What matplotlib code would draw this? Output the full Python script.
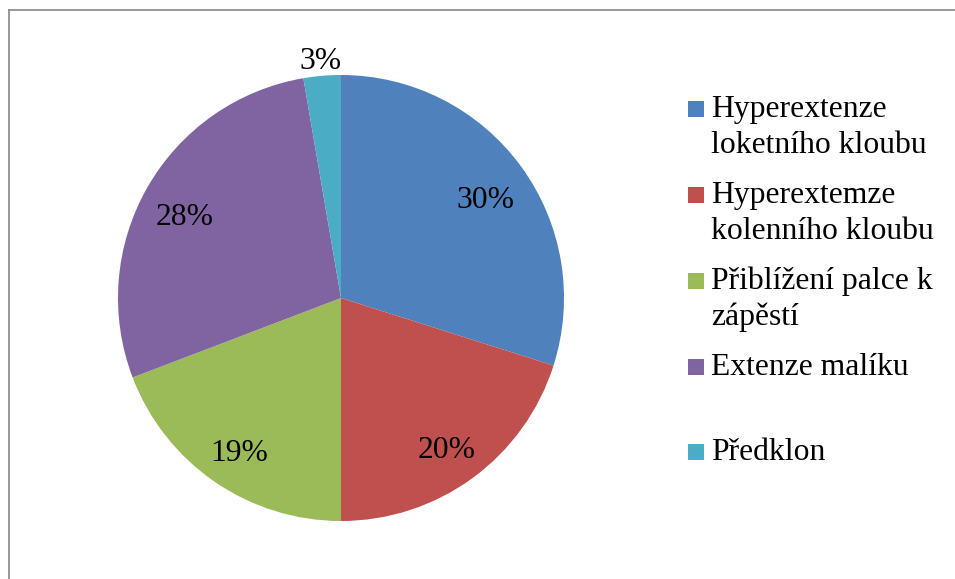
import matplotlib
matplotlib.use("Agg")
import matplotlib.pyplot as plt
from matplotlib.lines import Line2D
from matplotlib.patches import Rectangle
import numpy as np

categories = ["Hyperextenze\nloketního kloubu", "Hyperextemze\nkolenního kloubu",
              "Přiblížení palce k\nzápěstí", "Extenze malíku", "Předklon"]
values = [29.9, 20.1, 19.2, 28.1, 2.7]
colors = ["#4F81BD", "#C0504D", "#9BBB59", "#8064A2", "#4BACC6"]

W, H = 955, 579
FS = 22.8
plt.rcParams['font.family'] = ['Liberation Serif', 'DejaVu Serif']
fig = plt.figure(figsize=(W / 100, H / 100), dpi=100)
ax = fig.add_axes([0, 0, 1, 1])

cx, cy, R = 341, H - 298, 223
wedges, texts, autotexts = ax.pie(values, colors=colors, startangle=90, counterclock=False,
                                  center=(cx, cy), radius=R, autopct=lambda p: f"{p:.0f}%",
                                  pctdistance=0.805, textprops=dict(fontsize=FS, color="black"))
# visual centring of labels (glyph centre vs. bbox centre)
for t in autotexts:
    x, y = t.get_position()
    t.set_position((x, y - 8))
# small slice label outside
cum = np.cumsum([0] + values)
mid = (cum[-2] + values[-1] / 2) / sum(values) * 360
ang = np.deg2rad(90 - mid)
autotexts[-1].set_position((cx + 1.10 * R * np.cos(ang), cy + 1.10 * R * np.sin(ang) - 8))

ax.set_xlim(0, W)
ax.set_ylim(0, H)
ax.set_aspect('equal')
ax.axis('off')

# legend (manual, Excel-like)
def fx(x): return x / W
def fy(y): return 1 - y / H
entry_baselines = [117, 203, 289, 375, 460]
for lab, col, yb in zip(categories, colors, entry_baselines):
    fig.patches.append(Rectangle((fx(688), fy(yb)), 16 / W, 16 / H,
                                 transform=fig.transFigure, facecolor=col, edgecolor='none'))
    for i, line in enumerate(lab.split("\n")):
        fig.text(fx(711), fy(yb + 36 * i), line, fontsize=FS, va='baseline', ha='left')

# border
fig.add_artist(Line2D([fx(8.5), 1], [fy(9.5), fy(9.5)], transform=fig.transFigure, color="#868686", lw=1.2))
fig.add_artist(Line2D([fx(8.5), fx(8.5)], [fy(9.5), 0], transform=fig.transFigure, color="#868686", lw=1.2))

fig.savefig("out.png", dpi=100)
